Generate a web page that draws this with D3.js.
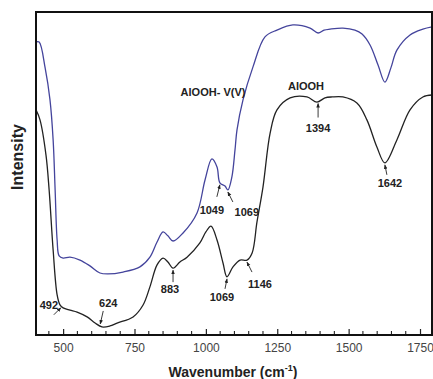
<!DOCTYPE html>
<html>
<head>
<meta charset="utf-8">
<script src="https://cdn.jsdelivr.net/npm/d3@7"></script>
<style>
  body { margin: 0; background: #fff; }
  svg { display: block; font-family: "Liberation Sans", Arial, sans-serif; }
</style>
</head>
<body>
<div id="chart"></div>
<script>
// wavenumbers (cm-1) and intensities (a.u.)
var blueWn  = [405, 416, 437, 454, 465, 472, 479, 486, 500, 524, 559, 594, 629, 657, 710, 769, 804, 829, 850, 867, 885, 920, 969, 997, 1021, 1039, 1049, 1067, 1077, 1091, 1102, 1109, 1130, 1165, 1207, 1249, 1305, 1365, 1393, 1414, 1435, 1480, 1522, 1547, 1575, 1603, 1627, 1648, 1669, 1715, 1760, 1792];
var blueVal = [90.7, 90.7, 82.7, 72.8, 60.4, 44.9, 29.4, 24.5, 23.8, 24.1, 23.2, 21.4, 19.2, 18.9, 19.5, 21.1, 24.1, 28.8, 31.9, 30.7, 29.1, 31.6, 37.8, 48.0, 54.5, 52.0, 47.1, 46.1, 44.9, 48.9, 57.3, 63.5, 72.8, 83.0, 92.3, 94.4, 96.0, 95.0, 93.5, 94.4, 94.7, 95.0, 94.4, 93.2, 89.8, 83.6, 78.3, 82.7, 88.2, 92.9, 94.7, 95.4];

var blackWn  = [405, 419, 440, 451, 465, 479, 489, 500, 524, 549, 584, 612, 636, 664, 689, 745, 780, 804, 829, 850, 867, 885, 909, 934, 979, 1000, 1018, 1039, 1060, 1074, 1095, 1120, 1144, 1162, 1179, 1200, 1225, 1249, 1295, 1354, 1389, 1417, 1442, 1480, 1529, 1564, 1599, 1627, 1669, 1715, 1760, 1792];
var blackVal = [69.7, 66.6, 55.7, 44.9, 26.3, 12.4, 9.3, 8.4, 7.7, 7.1, 5.6, 3.7, 2.5, 2.8, 3.7, 5.6, 9.3, 14.9, 21.7, 23.8, 22.6, 20.7, 22.6, 24.1, 28.5, 31.9, 33.7, 29.4, 22.3, 18.0, 21.1, 23.2, 23.2, 25.4, 35.0, 45.8, 62.5, 69.7, 73.4, 73.7, 72.1, 73.4, 73.7, 73.7, 71.8, 66.6, 58.2, 53.3, 60.4, 69.7, 73.7, 74.3];

var xTicks = [500, 750, 1000, 1250, 1500, 1750];

// peak labels: text, wavenumber of the arrow tip, which curve
var peakText = ["492", "624", "883", "1069", "1146", "1394", "1642", "1049", "1069"];
var peakWn   = [492, 630, 885, 1074, 1144, 1393, 1627, 1049, 1077];
var peakOf   = ["k", "k", "k", "k", "k", "k", "k", "b", "b"];

var seriesNames = ["AlOOH- V(V)", "AlOOH"];

var W = 433, H = 379;
var m = {left: 36, right: 1, top: 12, bottom: 44};

var svg = d3.select("#chart").append("svg")
    .attr("width", W).attr("height", H);

var x = d3.scaleLinear().domain([405, 1792]).range([m.left, W - m.right]);
var y = d3.scaleLinear().domain([0, 100]).range([H - m.bottom, m.top]);

var line = d3.line()
    .x(function(d) { return x(d[0]); })
    .y(function(d) { return y(d[1]); })
    .curve(d3.curveCatmullRom.alpha(0.5));

var blue = d3.zip(blueWn, blueVal),
    black = d3.zip(blackWn, blackVal);

svg.append("defs").append("marker")
    .attr("id", "tip")
    .attr("viewBox", "0 0 10 10")
    .attr("refX", 9).attr("refY", 5)
    .attr("markerWidth", 5).attr("markerHeight", 5)
    .attr("orient", "auto")
  .append("path")
    .attr("d", "M0,1L10,5L0,9z")
    .style("fill", "#222");

var plot = svg.append("g");
plot.append("clipPath").attr("id", "clip")
  .append("rect")
    .attr("x", m.left).attr("y", m.top)
    .attr("width", W - m.left - m.right).attr("height", H - m.top - m.bottom);

plot.append("path").datum(blue)
    .attr("clip-path", "url(#clip)")
    .attr("d", line)
    .style("fill", "none")
    .style("stroke", "#44449c")
    .style("stroke-width", 1.3);

plot.append("path").datum(black)
    .attr("clip-path", "url(#clip)")
    .attr("d", line)
    .style("fill", "none")
    .style("stroke", "#222")
    .style("stroke-width", 1.3);

// bottom axis, ticks pointing inward
var axis = d3.axisBottom(x).tickValues(xTicks).tickSize(-6).tickPadding(8).tickFormat(d3.format("d"));
var axg = svg.append("g")
    .attr("transform", "translate(0," + (H - m.bottom) + ")")
    .call(axis);
axg.select(".domain").remove();
axg.selectAll("line").style("stroke", "#222").style("stroke-width", 1.2);
axg.selectAll("text").style("font-size", "12px").style("fill", "#444")
    .style("font-family", "'Liberation Sans', Arial, sans-serif");

var minor = d3.range(450, 1792, 50).filter(function(v) { return v % 250 !== 0; });
svg.append("g").selectAll("line").data(minor).enter().append("line")
    .attr("x1", function(d) { return x(d); }).attr("x2", function(d) { return x(d); })
    .attr("y1", H - m.bottom).attr("y2", H - m.bottom - 4)
    .style("stroke", "#222").style("stroke-width", 1.1);

// frame
svg.append("rect")
    .attr("x", m.left).attr("y", m.top)
    .attr("width", 432 - m.left).attr("height", H - m.top - m.bottom)
    .style("fill", "none").style("stroke", "#111").style("stroke-width", 2);

// axis titles
var xt = svg.append("text")
    .attr("x", 233).attr("y", 377)
    .attr("text-anchor", "middle")
    .style("font-size", "14px").style("font-weight", "bold").style("fill", "#222");
xt.append("tspan").text("Wavenumber (cm");
xt.append("tspan").attr("dy", -6).style("font-size", "9px").text("-1");
xt.append("tspan").attr("dy", 6).text(")");

svg.append("text")
    .attr("transform", "translate(23,157) rotate(-90)")
    .attr("text-anchor", "middle")
    .style("font-size", "16px").style("font-weight", "bold").style("fill", "#222")
    .text("Intensity");

// series names
svg.append("text").attr("x", 213).attr("y", 96).attr("text-anchor", "middle")
    .style("font-size", "11px").style("font-weight", "bold").style("fill", "#222")
    .text(seriesNames[0]);
svg.append("text").attr("x", 306).attr("y", 90).attr("text-anchor", "middle")
    .style("font-size", "11px").style("font-weight", "bold").style("fill", "#222")
    .text(seriesNames[1]);

// arrow tail and label offsets from the tip, in pixels
var layout = {
  "492":  {tail: [-7, 7],  lab: [-12, -3]},
  "624":  {tail: [3, -13], lab: [8, -21]},
  "883":  {tail: [0, 12],  lab: [-3, 19]},
  "1069k":{tail: [-2, 10], lab: [-5, 18]},
  "1146": {tail: [5, 10],  lab: [13, 22]},
  "1394": {tail: [0, 14],  lab: [0, 24]},
  "1642": {tail: [2, 10],  lab: [5, 18]},
  "1049": {tail: [-3, 12], lab: [-8, 25]},
  "1069b":{tail: [5, 10],  lab: [19, 20]}
};

function valAt(wn, which) {
  var w = which === "b" ? blueWn : blackWn,
      v = which === "b" ? blueVal : blackVal;
  var i = d3.bisectLeft(w, wn);
  if (i <= 0) return v[0];
  var t = (wn - w[i - 1]) / (w[i] - w[i - 1]);
  return v[i - 1] + t * (v[i] - v[i - 1]);
}

var ann = svg.append("g");
peakText.forEach(function(txt, i) {
  var key = txt === "1069" ? txt + peakOf[i] : txt;
  var L = layout[key];
  var tx = x(peakWn[i]), ty = y(valAt(peakWn[i], peakOf[i]));
  ty += txt === "624" ? -2 : 2;
  ann.append("line")
      .attr("x1", tx + L.tail[0]).attr("y1", ty + L.tail[1])
      .attr("x2", tx).attr("y2", ty)
      .attr("marker-end", "url(#tip)")
      .style("stroke", "#222").style("stroke-width", 0.9);
  ann.append("text")
      .attr("x", tx + L.lab[0]).attr("y", ty + L.lab[1] + 4)
      .attr("text-anchor", "middle")
      .style("font-size", "11px").style("font-weight", "bold").style("fill", "#222")
      .text(txt);
});
</script>
</body>
</html>
